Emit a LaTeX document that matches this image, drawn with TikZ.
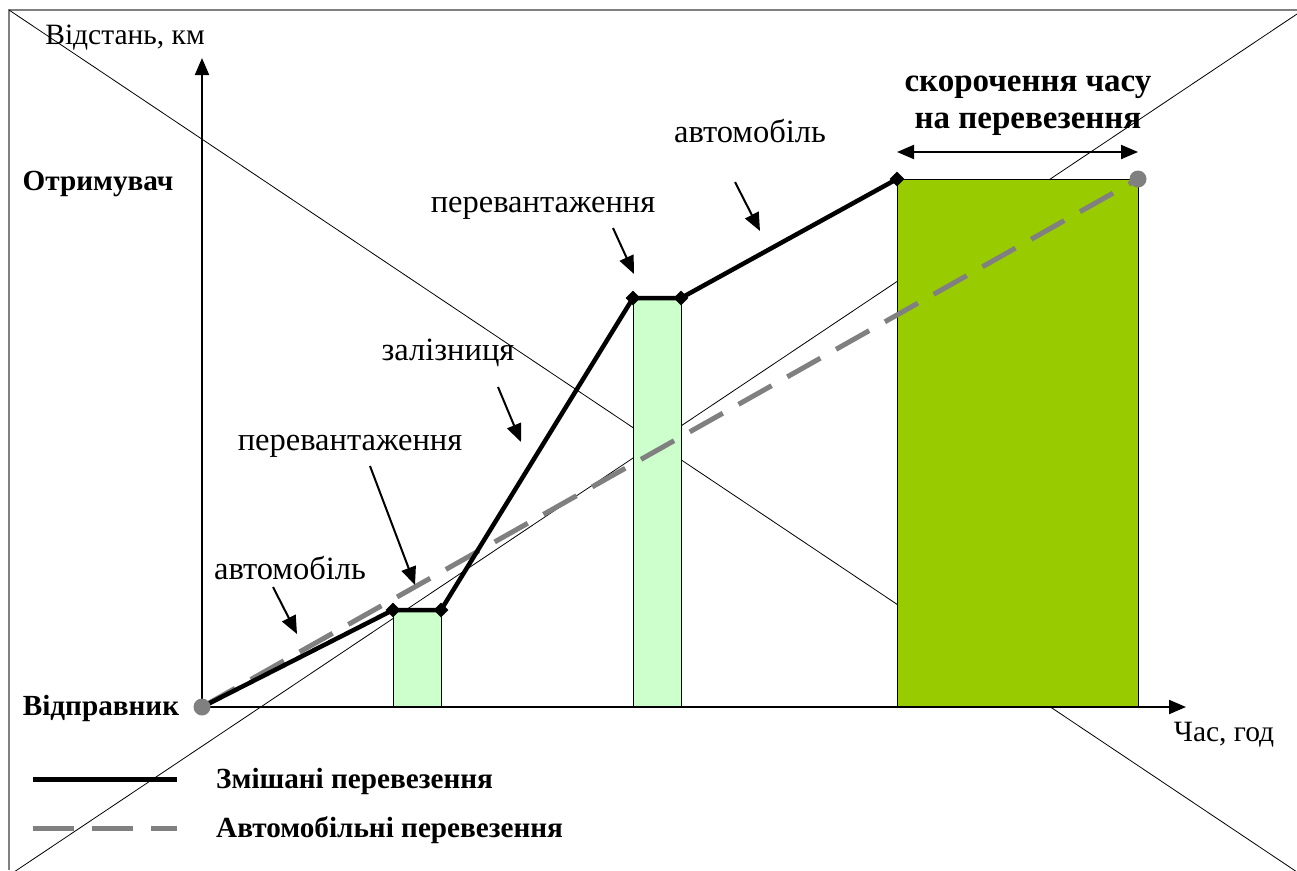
\documentclass[tikz,border=0pt]{standalone}
\usepackage{fontspec}
\setmainfont{Liberation Serif}
\usetikzlibrary{arrows.meta,shapes.geometric}
\definecolor{lgreen}{HTML}{CCFFCC}
\definecolor{dgreen}{HTML}{99CC00}
\definecolor{gline}{HTML}{808080}
\begin{document}
\begin{tikzpicture}[x=1pt,y=-1pt,
  lbl/.style={font=\fontsize{29.5}{34}\selectfont, inner sep=0pt},
  plbl/.style={font=\fontsize{32.5}{36}\selectfont, inner sep=0pt},
  blbl/.style={font=\fontsize{29.2}{36}\selectfont\bfseries, inner sep=0pt},
  rlbl/.style={font=\fontsize{33}{37}\selectfont\bfseries, inner sep=0pt},
  ptr/.style={-{Triangle[length=18pt,width=15pt]}, line width=2pt},
  axis/.style={-{Triangle[length=17pt,width=14pt]}, line width=2pt},
  mixed/.style={line width=4.5pt, line join=round},
  auto/.style={line width=5pt, gline, dash pattern=on 38pt off 18pt},
  vtx/.style={diamond, fill=black, inner sep=0pt, minimum size=15pt},
  dot/.style={circle, fill=gline, inner sep=0pt, minimum size=17pt},
  bar/.style={draw=black, line width=1pt}]
\useasboundingbox (0,0) rectangle (1297,870);
% frame and crossing lines
\draw[gline, line width=2pt] (9,870) -- (9,10) -- (1297,10);
\draw[line width=0.8pt] (9,10) -- (1297,872);
\draw[line width=0.8pt] (14,872) -- (1297,14);
% bars
\draw[bar, fill=lgreen] (393,610) rectangle (441,707);
\draw[bar, fill=lgreen] (633,298) rectangle (681,707);
\draw[bar, fill=dgreen] (897,179) rectangle (1138,707);
% axes
\coordinate (O) at (202,707);
\coordinate (ytip) at (202,58);
\coordinate (xtip) at (1186,707);
\draw[axis] (O) -- (ytip);
\draw[axis] (O) -- (xtip);
% vertices
\coordinate (v1) at (393,610);
\coordinate (v2) at (441,610);
\coordinate (v3) at (633,298);
\coordinate (v4) at (681,298);
\coordinate (v5) at (897,179);
\coordinate (E) at (1138,179);
% road transport
\draw[auto] (O) -- (E);
% mixed transport
\draw[mixed] (O) -- (v1) -- (v2) -- (v3) -- (v4) -- (v5);
\foreach \v in {v1,v2,v3,v4,v5} \node[vtx] at (\v) {};
\node[dot] (Od) at (O) {};
\node[dot] (Ed) at (E) {};
% time reduction arrow
\coordinate (r1) at (897,152);
\coordinate (r2) at (1138,152);
\draw[{Triangle[length=17pt,width=14pt]}-{Triangle[length=17pt,width=14pt]}, line width=2pt] (r1) -- (r2);
\node[rlbl, align=center] (red) at (1028,106) {скорочення часу\\на перевезення};
% labels
\node[lbl] (ylab) at (125,38) {Відстань, км};
\node[lbl] (xlab) at (1224,735) {Час, год};
\node[blbl] (recv) at (98,184) {Отримувач};
\node[blbl] (send) at (101,708) {Відправник};
\node[plbl] (l1) at (750,131) {автомобіль};
\node[plbl] (l2) at (543,208) {перевантаження};
\node[plbl] (l3) at (448,353) {залізниця};
\node[plbl] (l4) at (350,446) {перевантаження};
\node[plbl] (l5) at (290,568) {автомобіль};
% pointers
\coordinate (a1s) at (735,182); \coordinate (a1e) at (760,231);
\coordinate (a2s) at (613,228); \coordinate (a2e) at (634,274);
\coordinate (a3s) at (498,387); \coordinate (a3e) at (521,442);
\coordinate (a4s) at (370,466); \coordinate (a4e) at (415,585);
\coordinate (a5s) at (273,587); \coordinate (a5e) at (297,634);
\draw[ptr] (a1s) -- (a1e);
\draw[ptr] (a2s) -- (a2e);
\draw[ptr] (a3s) -- (a3e);
\draw[ptr] (a4s) -- (a4e);
\draw[ptr] (a5s) -- (a5e);
% legend
\coordinate (k1a) at (33,779); \coordinate (k1b) at (177,779);
\coordinate (k2a) at (33,828); \coordinate (k2b) at (177,828);
\draw[line width=5pt] (k1a) -- (k1b);
\draw[line width=5pt, gline, dash pattern=on 41pt off 18pt] (k2a) -- (k2b);
\node[blbl, anchor=west] (lg1) at (216,781) {Змішані перевезення};
\node[blbl, anchor=west] (lg2) at (216,830) {Автомобільні перевезення};
\end{tikzpicture}
\end{document}
